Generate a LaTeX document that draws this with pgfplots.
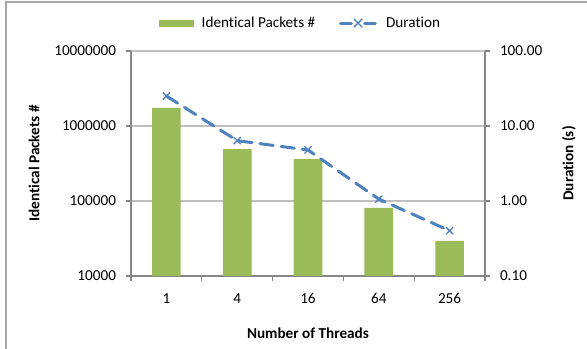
\documentclass[border=0pt]{standalone}
\usepackage{fontspec}
\setmainfont{Carlito}[Ligatures=NoCommon]
\usepackage{pgfplots}
\pgfplotsset{compat=1.18}
\definecolor{barg}{HTML}{9BBB59}
\definecolor{lineb}{HTML}{4F81BD}
\definecolor{axg}{HTML}{868686}
\definecolor{gridg}{HTML}{BFBFBF}
\definecolor{frameg}{HTML}{A6A6A6}
\begin{document}
\begin{tikzpicture}[font=\fontsize{11.4}{13.7}\selectfont]
\useasboundingbox (0,0) rectangle (440.25pt,-261.75pt);
\draw[frameg, line width=0.9pt] (4.5pt,-262pt) -- (4.5pt,-1.5pt) -- (442pt,-1.5pt);
\begin{axis}[
  at={(98.25pt,-207pt)}, anchor=south west,
  scale only axis, width=265.5pt, height=168.75pt,
  /pgf/number format/assume math mode=true,
  ymode=log, ymin=1e4, ymax=1e7, log origin y=infty,
  xmin=-0.5, xmax=4.5,
  axis x line*=bottom, axis y line*=left,
  axis line style={draw=axg, line width=1pt, -},
  tick align=outside,
  major tick length=3.75pt, minor tick length=3.75pt,
  xtick={0,...,4}, xticklabels={1,4,16,64,256},
  minor xtick={-0.5,0.5,1.5,2.5,3.5,4.5},
  major x tick style={draw=none},
  minor x tick style={draw=axg, line width=0.8pt},
  ytick={1e4,1e5,1e6,1e7}, yticklabels={10000,100000,1000000,10000000},
  yminorticks=false,
  y tick style={draw=axg, line width=0.8pt},
  ymajorgrids, major grid style={draw=gridg, line width=1pt},
  xticklabel style={yshift=-6pt},
  yticklabel style={xshift=-4pt},
  xlabel={\bfseries Number of Threads},
  xlabel style={at={(axis description cs:0.5,-0.2533)}, anchor=center},
  ylabel={\bfseries Identical Packets \#},
  ylabel style={at={(axis description cs:-0.274,0.5)}, anchor=center},
]
\addplot[ybar, fill=barg, draw=none, bar width=21.5pt] coordinates {
 (0,1.74e6) (1,4.93e5) (2,3.63e5) (3,8.07e4) (4,2.93e4)};
\end{axis}
\begin{axis}[
  at={(98.25pt,-207pt)}, anchor=south west,
  scale only axis, width=265.5pt, height=168.75pt,
  /pgf/number format/assume math mode=true,
  ymode=log, ymin=0.1, ymax=100,
  xmin=-0.5, xmax=4.5,
  axis x line=none, axis y line*=right,
  axis line style={draw=axg, line width=1pt, -},
  tick align=outside, major tick length=3.75pt,
  ytick={0.1,1,10,100}, yticklabels={0.10,1.00,10.00,100.00},
  yminorticks=false,
  y tick style={draw=axg, line width=0.8pt},
  yticklabel style={xshift=4pt},
  ylabel={\bfseries Duration (s)},
  ylabel style={at={(axis description cs:1.237,0.5)}, anchor=center, rotate=0},
  legend columns=2,
  legend style={draw=none, fill=none, at={(axis description cs:0.48,1.124)}, anchor=center,
    /tikz/every even column/.append style={column sep=16pt}},
  legend cell align=left,
]
\addlegendimage{legend image code/.code={\fill[barg, draw=none] (0pt,-2.6pt) rectangle (26pt,2.6pt); \path[draw=none, fill=none] (0pt,0pt) -- (30pt,0pt);}}
\addlegendentry{Identical Packets \#}
\addplot[lineb, line width=2.25pt, dash pattern=on 10pt off 6pt, line cap=round,
  mark=x, mark size=3.5pt, mark options={solid, line width=1pt},
  legend image code/.code={
    \draw[lineb, solid, line width=2.25pt] (0pt,0pt)--(8pt,0pt) (18pt,0pt)--(26pt,0pt);
    \draw[lineb, solid, line width=1pt] (10pt,-3pt)--(16pt,3pt) (10pt,3pt)--(16pt,-3pt);
    \path[draw=none, fill=none] (0pt,0pt) -- (32pt,0pt);}]
 coordinates {(0,25.1) (1,6.37) (2,4.79) (3,1.06) (4,0.402)};
\addlegendentry{Duration}
\end{axis}
\end{tikzpicture}
\end{document}
